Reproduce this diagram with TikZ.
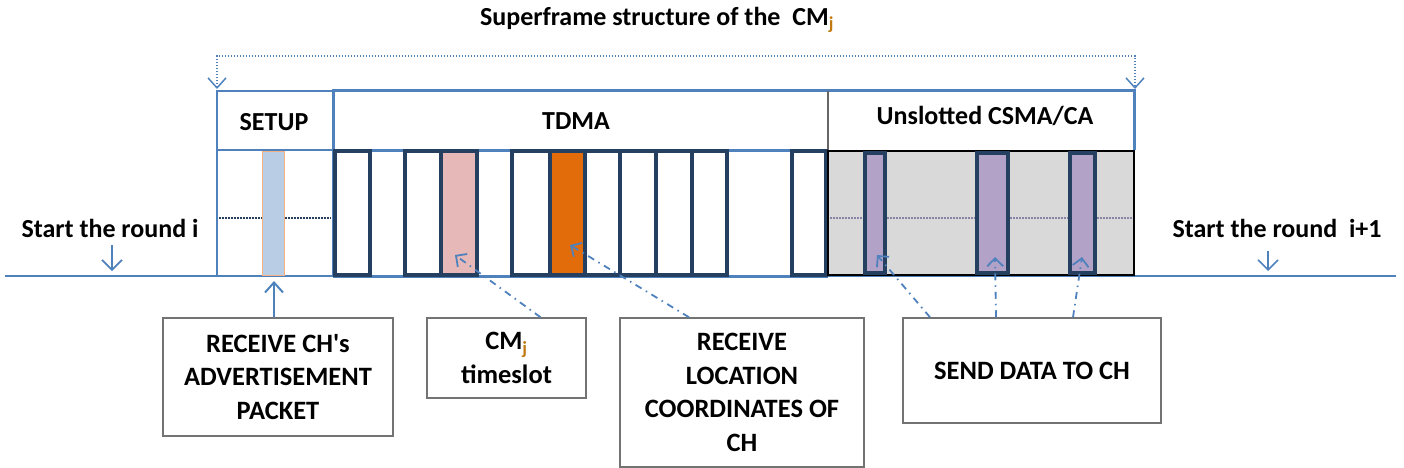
\documentclass[tikz,border=0pt]{standalone}
\usepackage{fontspec}
\setmainfont{Carlito}
\usetikzlibrary{arrows.meta}
\definecolor{frameblue}{HTML}{4F81BD}
\definecolor{slotnavy}{HTML}{243F60}
\definecolor{cmslot}{HTML}{E6B9B8}
\definecolor{chslot}{HTML}{E36C0A}
\definecolor{advslot}{HTML}{B9CDE5}
\definecolor{advedge}{HTML}{F4B183}
\definecolor{csmafill}{HTML}{D9D9D9}
\definecolor{dataslot}{HTML}{B3A2C7}
\definecolor{subj}{HTML}{C07A10}
\tikzset{
  head/.style={font=\fontsize{26}{30}\selectfont\bfseries},
  labelbox/.style={draw=black!55, line width=1.5pt, align=center, inner sep=0pt,
    font=\fontsize{26.5}{33.5}\selectfont\bfseries},
  tdmaslot/.style={draw=slotnavy, line width=4pt},
  midline/.style={line width=1.3pt, dash pattern=on 1.5pt off 1.5pt},
  pointer/.style={frameblue, line width=1.8pt, dash pattern=on 7pt off 5pt on 1.5pt off 5pt,
    -{Straight Barb[length=8pt,width=16pt]}},
  roundarrow/.style={frameblue, line width=1.6pt, -{Straight Barb[length=10pt,width=20pt]}},
}
\begin{document}
\begin{tikzpicture}[x=1pt, y=-1pt]
\useasboundingbox (0,0) rectangle (1404,468);

% time axis
\draw[frameblue, line width=2pt] (5,276) -- (1396,276);

% setup part of the superframe
\draw[frameblue, line width=1.3pt] (217,276) -- (217,91) -- (333,91);
\draw[frameblue, line width=1.3pt] (217,150) -- (333,150);
\draw[slotnavy, midline] (219,218) -- (331,218);
\draw[advedge, fill=advslot, line width=1pt] (262,151) rectangle (284,275);

% TDMA and CSMA headers
\draw[frameblue, line width=3pt] (333,276) -- (333,91) -- (1134,91) -- (1134,150);
\draw[frameblue, line width=3pt] (333,150) -- (828,150);
\draw[frameblue, line width=3pt] (333,276) -- (828,276);
\draw[black!60, line width=1.2pt] (828,91) -- (828,150);

% TDMA timeslots
\foreach \a/\b in {335/370,405/441,512/550,585/620,620/656,656/692,692/727,792/826}
{
    \draw[tdmaslot] (\a,151) rectangle (\b,275);
}
\draw[tdmaslot, fill=cmslot] (441,151) rectangle (477,275);
\draw[tdmaslot, fill=chslot] (550,151) rectangle (585,275);

% unslotted CSMA/CA period
\draw[fill=csmafill, line width=2pt] (828,151) rectangle (1134,275);
\draw[dataslot!70!slotnavy, midline] (830,218) -- (1132,218);
\foreach \a/\b in {865/885,977/1008,1070/1095}
{
    \draw[tdmaslot, fill=dataslot] (\a,153) rectangle (\b,273);
}

% titles
\node[head] (title) at (657,20) {Superframe structure of the\ \ CM\textsubscript{\color{subj}j}};
\node[head] (setup) at (274,122) {SETUP};
\node[head] (tdma) at (576,121) {TDMA};
\node[head] (csma) at (985,116) {Unslotted CSMA/CA};

\coordinate (sfl) at (217,89);
\coordinate (sfr) at (1135,89);
\draw[frameblue, line width=1.5pt, dash pattern=on 1.5pt off 1.5pt,
  {Straight Barb[length=10pt,width=18pt]}-{Straight Barb[length=10pt,width=18pt]}]
  (sfl) -- ++(0,-33) -| (sfr);

% start of the rounds
\node[head] (roundi) at (110,228) {Start the round i};
\node[head] (roundj) at (1277,228) {Start the round\ \ i+1};
\coordinate (rimark) at (112,271);
\coordinate (rjmark) at (1268,271);
\draw[roundarrow] (rimark) ++(0,-26) -- (rimark);
\draw[roundarrow] (rjmark) ++(0,-20) -- (rjmark);

% labels
\node[labelbox, minimum width=230pt, minimum height=118pt] (adv) at (278,377)
  {RECEIVE CH\textquotesingle s\\ADVERTISEMENT\\PACKET};
\node[labelbox, minimum width=159pt, minimum height=80pt] (slotlbl) at (506.5,358)
  {CM\textsubscript{\color{subj}j}\\timeslot};
\node[labelbox, minimum width=244pt, minimum height=149pt] (loc) at (742,392.5)
  {RECEIVE\\LOCATION\\COORDINATES OF\\CH};
\node[labelbox, minimum width=258pt, minimum height=105pt] (send) at (1032,370.5)
  {SEND DATA TO CH};

% pointers
\coordinate (advtip) at (274,281);
\coordinate (cmtip) at (455,255);
\coordinate (chtip) at (570,245);
\coordinate (d1tip) at (877,255);
\coordinate (d2tip) at (995,257);
\coordinate (d3tip) at (1082,257);
\draw[frameblue, line width=2pt, -{Straight Barb[length=10pt,width=18pt]}] (adv.north -| advtip) -- (advtip);
\draw[pointer] ([xshift=34pt]slotlbl.north) -- (cmtip);
\draw[pointer] ([xshift=-53pt]loc.north) -- (chtip);
\draw[pointer] ([xshift=-102pt]send.north) -- (d1tip);
\draw[pointer] ([xshift=-36pt]send.north) -- (d2tip);
\draw[pointer] ([xshift=41pt]send.north) -- (d3tip);
\end{tikzpicture}
\end{document}
